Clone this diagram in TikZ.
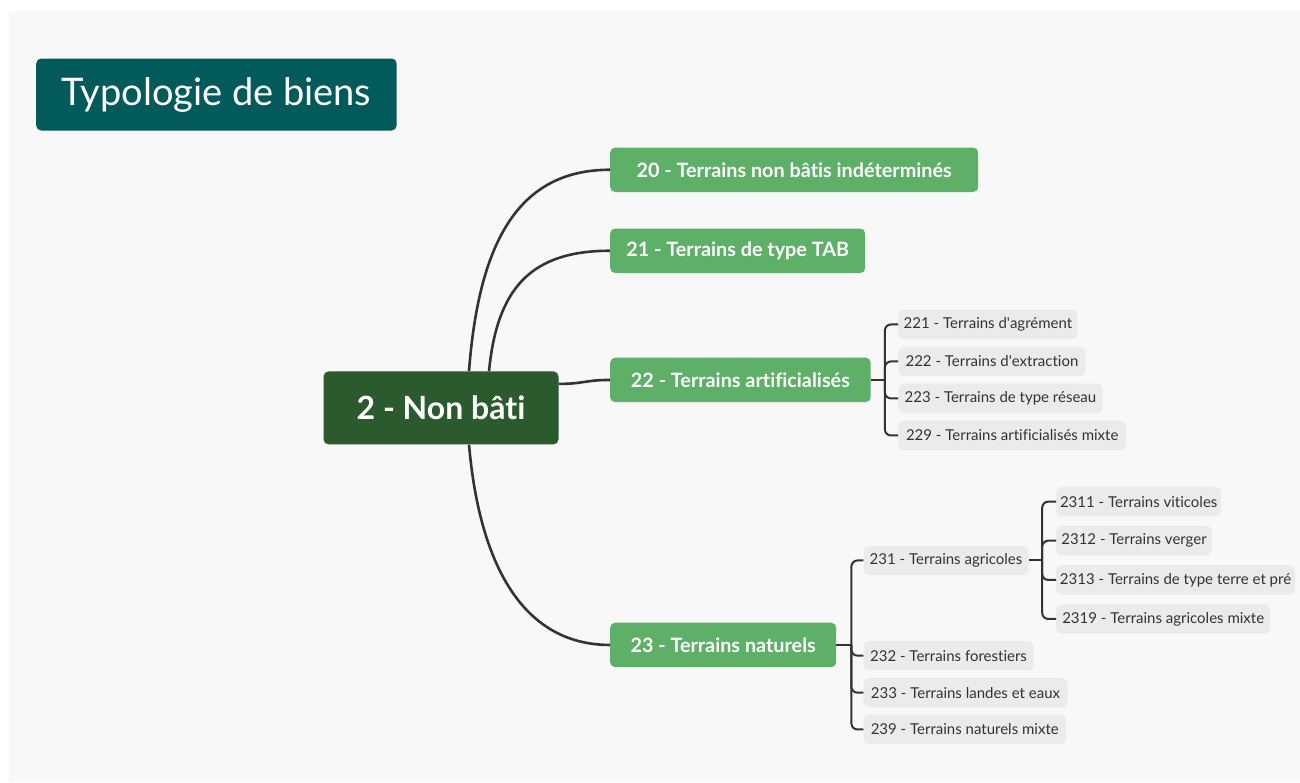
\documentclass[tikz,border=0pt]{standalone}
\usepackage{fontspec}
\setmainfont{Lato}[Ligatures={NoCommon,NoDiscretionary,NoRare}]
\usetikzlibrary{backgrounds}

\definecolor{bgpaper}{RGB}{248,248,248}
\definecolor{titleteal}{RGB}{3,90,90}
\definecolor{rootgreen}{RGB}{43,90,46}
\definecolor{topicgreen}{RGB}{94,175,103}
\definecolor{subgray}{RGB}{235,235,235}
\definecolor{inkgray}{RGB}{51,51,51}

\tikzset{
  box/.style={anchor=north west, rounded corners=5pt, inner sep=0pt, text=white},
  titlebox/.style={box, fill=titleteal, font=\fontsize{38}{40}\selectfont},
  rootbox/.style={box, fill=rootgreen, font=\fontsize{32}{34}\selectfont\bfseries},
  topicbox/.style={box, fill=topicgreen, minimum height=44.5pt, font=\fontsize{19.8}{21}\selectfont\bfseries},
  subbox/.style={box, fill=subgray, text=inkgray, rounded corners=6pt, minimum height=29.5pt, font=\fontsize{15}{17}\selectfont},
  link/.style={draw=inkgray, line width=2.6pt},
  branch/.style={draw=inkgray, line width=2pt, rounded corners=6pt},
}

\begin{document}
\begin{tikzpicture}[x=1pt, y=-1pt]
      \useasboundingbox (0,0) rectangle (1300,782);
      % TITLE
      \node[titlebox, minimum width=360.5pt, minimum height=72pt] (title) at (36,58.3) {Typologie de biens};
      % ROOT
      \node[rootbox, minimum width=235pt, minimum height=73pt] (root) at (323.3,371.2) {2 - Non bâti};
      % FIRST LEVEL
      \node[topicbox, minimum width=368pt] (t20) at (610,147.3) {20 - Terrains non bâtis indéterminés};
      \node[topicbox, minimum width=255pt] (t21) at (610,228.3) {21 - Terrains de type TAB};
      \node[topicbox, minimum width=260.5pt] (t22) at (610,357.5) {22 - Terrains artificialisés};
      \node[topicbox, minimum width=226pt] (t23) at (610,622.5) {23 - Terrains naturels};
      % SECOND LEVEL
      % -- under 22
      \node[subbox, minimum width=179.5pt] (s221) at (898,309.5) {221 - Terrains d\textquotesingle agrément};
      \node[subbox, minimum width=187.5pt] (s222) at (898,346.5) {222 - Terrains d\textquotesingle extraction};
      \node[subbox, minimum width=204.5pt] (s223) at (898,383.5) {223 - Terrains de type réseau};
      \node[subbox, minimum width=228pt] (s229) at (898,420.5) {229 - Terrains artificialisés mixte};
      % -- under 23
      \node[subbox, minimum width=165pt] (s231) at (863.3,545.5) {231 - Terrains agricoles};
      \node[subbox, minimum width=170pt] (s232) at (863.3,640.7) {232 - Terrains forestiers};
      \node[subbox, minimum width=204pt] (s233) at (863.3,677.7) {233 - Terrains landes et eaux};
      \node[subbox, minimum width=202.5pt] (s239) at (863.3,714.5) {239 - Terrains naturels mixte};
      % THIRD LEVEL
      \node[subbox, minimum width=165pt] (s2311) at (1056,486.7) {2311 - Terrains viticoles};
      \node[subbox, minimum width=155.7pt] (s2312) at (1056,525.7) {2312 - Terrains verger};
      \node[subbox, minimum width=238.7pt] (s2313) at (1056,565) {2313 - Terrains de type terre et pré};
      \node[subbox, minimum width=214pt] (s2319) at (1056,604) {2319 - Terrains agricoles mixte};
      % -- brackets
      \draw[branch] (t22.east) -- ++(14,0) coordinate (j22);
      \draw[branch] (t23.east) -- ++(15,0) coordinate (j23);
      \draw[branch] (s231.east) -- ++(13.5,0) coordinate (j231);
      \foreach \s in {s221,s222,s223,s229}
        \draw[branch] (j22) |- (\s.west);
      \foreach \s in {s231,s232,s233,s239}
        \draw[branch] (j23) |- (\s.west);
      \foreach \s in {s2311,s2312,s2313,s2319}
        \draw[branch] (j231) |- (\s.west);
      % -- curves from root, behind the boxes
      \begin{scope}[on background layer]
        \fill[bgpaper] (9,10.5) rectangle (1300,782);
        \draw[link] ([xshift=28pt]root.north) .. controls +(10,-132) and +(-90,0) .. (t20.west);
        \draw[link] ([xshift=48pt]root.north) .. controls +(8,-82) and +(-80,0) .. (t21.west);
        \draw[link] ([yshift=24pt]root.east) .. controls +(25,0) and +(-25,0) .. (t22.west);
        \draw[link] ([xshift=28pt]root.south) .. controls +(10,115) and +(-90,0) .. (t23.west);
      \end{scope}
    \end{tikzpicture}
\end{document}
